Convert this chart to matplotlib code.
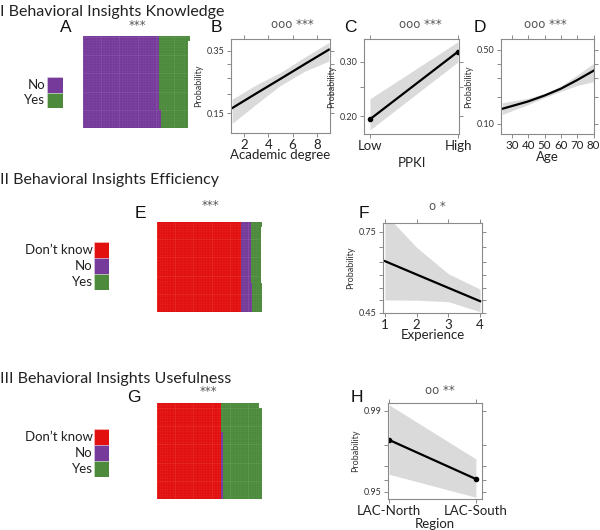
import numpy as np
import matplotlib.pyplot as plt
from matplotlib.ticker import NullLocator, NullFormatter

plt.rcParams['font.family'] = ['Lato', 'DejaVu Sans']

W, H = 600, 530

# ---- colours of the response categories
col = {"Don’t know": "#e2110f", "No": "#763a9b", "Yes": "#4d8a3c"}

# ---- mosaic data (row heights, share of each answer per row)
resp_A = ["No", "Yes"]
rows_A = [5, 69, 18]
share_A = [[0.710, 0.290], [0.710, 0.271], [0.729, 0.252]]

resp_E = ["Don’t know", "No", "Yes"]
rows_E = [5, 57, 30]
share_E = [[0.800, 0.095, 0.105], [0.800, 0.095, 0.100], [0.800, 0.105, 0.095]]

resp_G = ["Don’t know", "No", "Yes"]
rows_G = [5, 24, 67]
share_G = [[0.608, 0.0, 0.360], [0.608, 0.0, 0.390], [0.610, 0.020, 0.370]]

# ---- effect plots
B_x = [1, 3, 5, 7, 9]
B_fit = [0.162, 0.201, 0.246, 0.298, 0.355]
B_lo = [0.128, 0.172, 0.225, 0.272, 0.310]
B_hi = [0.185, 0.227, 0.268, 0.325, 0.385]

C_x = [0, 1]
C_lab = ["Low", "High"]
C_fit = [0.195, 0.322]
C_lo = [0.179, 0.300]
C_hi = [0.229, 0.344]

D_x = [24, 40, 50, 60, 70, 80]
D_fit = [0.148, 0.178, 0.205, 0.240, 0.290, 0.350]
D_lo = [0.128, 0.165, 0.195, 0.226, 0.258, 0.280]
D_hi = [0.172, 0.192, 0.215, 0.255, 0.322, 0.400]

F_x = [1, 2, 3, 4]
F_fit = [0.652, 0.602, 0.550, 0.497]
F_lo = [0.502, 0.501, 0.495, 0.455]
F_hi = [0.800, 0.700, 0.605, 0.545]

H_x = [0, 1]
H_lab = ["LAC-North", "LAC-South"]
H_fit = [0.9820, 0.9609]
H_lo = [0.9644, 0.9443]
H_hi = [0.9911, 0.9737]

fig = plt.figure(figsize=(6, 5.3), dpi=100)


def box(l, t, r, b):
    return fig.add_axes([l / W, 1 - b / H, (r - l) / W, (b - t) / H])


def ftext(x, y, s, **kw):
    fig.text(x / W, 1 - y / H, s, **kw)


def mosaic(ax, resp, rows, shares, wpx, hpx):
    tot = sum(rows)
    y = tot
    for h, sh in zip(rows, shares):
        left = 0
        for s, r in zip(sh, resp):
            ax.barh(y - h / 2, s, height=h, left=left, color=col[r], lw=0)
            left += s
        y -= h
    # faint cell texture
    for i, xx in enumerate(np.arange(0, 1, 2.6 / wpx)):
        ax.axvline(xx, color="white", lw=0.4, alpha=0.14 if i % 7 == 0 else 0.05)
    for i, yy in enumerate(np.arange(0, tot, 2.6 * tot / hpx)):
        ax.axhline(yy, color="white", lw=0.4, alpha=0.14 if i % 7 == 0 else 0.05)
    ax.set_xlim(0, 1)
    ax.set_ylim(0, tot)
    ax.axis("off")


def legend(ax, resp):
    n = len(resp)
    for i, r in enumerate(resp):
        ax.bar(0, 1, bottom=n - 1 - i, width=1, color=col[r],
               edgecolor=(1, 1, 1, 0.35), lw=0.6)
        ax.text(-0.6, n - 0.5 - i, r, ha="right", va="center", fontsize=9.5, color="#222")
    ax.set_xlim(-0.5, 0.5)
    ax.set_ylim(0, n)
    ax.axis("off")


def effect(ax, x, fit, lo, hi, ylim, yt, ylab, xlim, dots=False):
    ax.set_yscale("logit")
    ax.fill_between(x, lo, hi, color="#dadada", lw=0)
    ax.plot(x, fit, color="black", lw=1.6, marker="o" if dots else None, ms=3)
    ax.set_ylim(ylim)
    ax.set_xlim(xlim)
    ax.yaxis.set_minor_locator(NullLocator())
    ax.yaxis.set_minor_formatter(NullFormatter())
    ax.set_yticks(yt)
    ax.set_yticklabels(ylab)
    for s in ax.spines.values():
        s.set_color("#8a8a8a")
        s.set_linewidth(0.8)
    ax.tick_params(axis="both", which="major", direction="out", length=3, width=0.7,
                   color="#8a8a8a", top=True, right=True, pad=1.5)
    ax.tick_params(axis="y", labelsize=6.5, labelcolor="#333")
    ax.tick_params(axis="x", labelsize=9.5, labelcolor="#222", pad=1)
    ax.set_ylabel("Probability", fontsize=6.5, color="#333", labelpad=3)


# ---------------- section titles
ftext(0, 12, "I Behavioral Insights Knowledge", fontsize=11.5, va="center", color="#222")
ftext(0, 180, "II Behavioral Insights Efficiency", fontsize=11.5, va="center", color="#222")
ftext(0, 379, "III Behavioral Insights Usefulness", fontsize=11.5, va="center", color="#222")

letter = dict(fontsize=12.5, family="Liberation Sans", va="center", ha="center", color="#111")
stars = dict(fontsize=8.5, family="DejaVu Sans", va="center", ha="center", color="#555")

# ---------------- row I
axA = box(83, 36, 190, 128)
mosaic(axA, resp_A, rows_A, share_A, 107, 92)
legend(box(47, 77, 63, 108), resp_A)
ftext(66, 28, "A", **letter)
ftext(137, 25, "***", **stars)

axB = box(231, 39, 330, 133)
effect(axB, B_x, B_fit, B_lo, B_hi, (0.11, 0.40), [0.15, 0.2, 0.25, 0.3, 0.35],
       ["0.15", "", "", "", "0.35"], (0.9, 9.1))
axB.set_xticks([2, 4, 6, 8])
axB.set_xlabel("Academic degree", fontsize=9.5, color="#222", labelpad=-1)
ftext(216, 28, "B", **letter)
ftext(292, 25, "ooo ***", **stars)

axC = box(364, 39, 459, 134)
effect(axC, C_x, C_fit, C_lo, C_hi, (0.173, 0.35), [0.2, 0.25, 0.3],
       ["0.20", "", "0.30"], (-0.068, 1.011), dots=True)
axC.set_xticks(C_x)
axC.set_xticklabels(C_lab)
axC.set_xlabel("PPKI", fontsize=9.5, color="#222", labelpad=4)
ftext(350, 28, "C", **letter)
ftext(420, 25, "ooo ***", **stars)

axD = box(501, 39, 594, 134)
effect(axD, D_x, D_fit, D_lo, D_hi, (0.076, 0.58), [0.1, 0.2, 0.3, 0.4, 0.5],
       ["0.10", "", "", "", "0.50"], (23.3, 80.3))
axD.set_xticks([30, 40, 50, 60, 70, 80])
axD.tick_params(axis="x", labelsize=8.3)
axD.set_xlabel("Age", fontsize=9.5, color="#222", labelpad=0)
ftext(480, 28, "D", **letter)
ftext(545, 25, "ooo ***", **stars)

# ---------------- row II
axE = box(157, 222, 262, 312)
mosaic(axE, resp_E, rows_E, share_E, 105, 90)
legend(box(94, 242, 109, 290), resp_E)
ftext(140, 213, "E", **letter)
ftext(210, 206, "***", **stars)

axF = box(383, 223, 482, 313)
effect(axF, F_x, F_fit, F_lo, F_hi, (0.45, 0.775), [0.45, 0.5, 0.55, 0.6, 0.65, 0.7, 0.75],
       ["0.45", "", "", "", "", "", "0.75"], (0.94, 4.06))
axF.set_xticks([1, 2, 3, 4])
axF.set_xlabel("Experience", fontsize=9.5, color="#222", labelpad=-1)
ftext(364, 213, "F", **letter)
ftext(437, 206, "o *", **stars)

# ---------------- row III
axG = box(157, 403, 262, 499)
mosaic(axG, resp_G, rows_G, share_G, 105, 96)
legend(box(94, 429, 109, 477), resp_G)
ftext(134, 398, "G", **letter)
ftext(208, 391, "***", **stars)

axH = box(388, 403, 482, 499)
effect(axH, H_x, H_fit, H_lo, H_hi, (0.9424, 0.99143), [0.95, 0.96, 0.97, 0.98, 0.99],
       ["0.95", "", "", "", "0.99"], (-0.012, 1.07), dots=True)
axH.set_xticks(H_x)
axH.set_xticklabels(H_lab)
axH.set_xlabel("Region", fontsize=9.5, color="#222", labelpad=1)
ftext(357, 398, "H", **letter)
ftext(440, 391, "oo **", **stars)

fig.savefig("out.png", dpi=100)
